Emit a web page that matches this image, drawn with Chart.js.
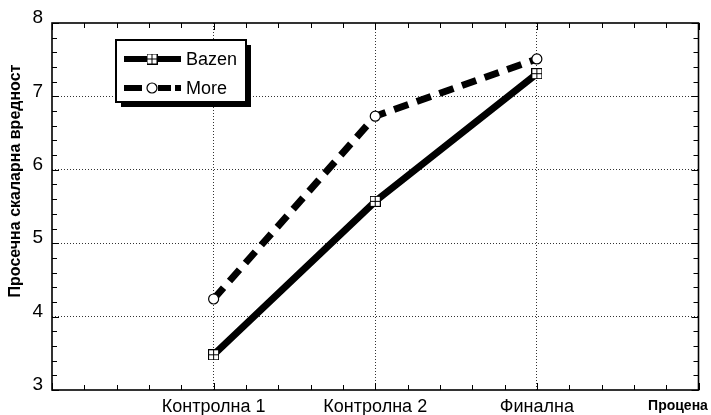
<!DOCTYPE html>
<html><head><meta charset="utf-8">
<script src="https://cdn.jsdelivr.net/npm/chart.js@4/dist/chart.umd.min.js"></script>
<style>html,body{margin:0;padding:0;background:#fff;}#wrap{width:711px;height:415px;position:relative;}</style>
</head><body><div id="wrap"><canvas id="c"></canvas></div>
<script>
const categories = ['', 'Контролна 1', 'Контролна 2', 'Финална', ''];
const bazenValues = [null, 3.48, 5.57, 7.31, null];
const moreValues = [null, 4.24, 6.73, 7.51, null];
const seriesNames = ['Bazen', 'More'];
const yMin = 3, yMax = 8, yStep = 1;
const yTitle = 'Просечна скаларна вредност';
const xTitle = 'Процена';

const FONT = '"Liberation Sans", Arial, Helvetica, sans-serif';

function squareMarker() {
  const c = document.createElement('canvas');
  c.width = 11; c.height = 11;
  const g = c.getContext('2d');
  g.fillStyle = '#fff'; g.fillRect(0, 0, 11, 11);
  g.strokeStyle = '#000'; g.lineWidth = 1;
  g.strokeRect(0.5, 0.5, 10, 10);
  g.beginPath();
  g.moveTo(5.5, 0.5); g.lineTo(5.5, 10.5);
  g.moveTo(0.5, 5.5); g.lineTo(10.5, 5.5);
  g.stroke();
  return c;
}
const sqMark = squareMarker();

const decorPlugin = {
  id: 'decor',
  beforeDatasetsDraw(chart) {
    const ctx = chart.ctx, a = chart.chartArea, xs = chart.scales.x, ys = chart.scales.y;
    ctx.save();
    ctx.strokeStyle = '#000';
    ctx.lineWidth = 1;
    ctx.beginPath();
    const nx = categories.length - 1;
    for (let i = 0; i <= nx * 5; i++) {
      const v = i / 5;
      const x = Math.round(xs.getPixelForValue(v)) + 0.5;
      const L = (i % 5 === 0) ? 7 : 5;
      ctx.moveTo(x, a.bottom); ctx.lineTo(x, a.bottom - L);
      ctx.moveTo(x, a.top); ctx.lineTo(x, a.top + L);
    }
    const ny = Math.round((yMax - yMin) / 0.2);
    for (let i = 0; i <= ny; i++) {
      const v = yMin + i * 0.2;
      const y = Math.round(ys.getPixelForValue(v)) + 0.5;
      const L = (i % 5 === 0) ? 7 : 5;
      ctx.moveTo(a.left, y); ctx.lineTo(a.left + L, y);
      ctx.moveTo(a.right, y); ctx.lineTo(a.right - L, y);
    }
    ctx.stroke();
    ctx.lineWidth = 1.6;
    ctx.strokeRect(a.left, a.top, a.right - a.left, a.bottom - a.top);
    ctx.restore();
  },
  afterDraw(chart) {
    const ctx = chart.ctx;
    const ds = chart.data.datasets;
    ctx.save();
    // y title
    ctx.fillStyle = '#000';
    ctx.font = 'bold 16px ' + FONT;
    ctx.textAlign = 'center';
    ctx.textBaseline = 'middle';
    ctx.translate(16, 181);
    ctx.rotate(-Math.PI / 2);
    ctx.fillText(yTitle, 0, 0);
    ctx.setTransform(1, 0, 0, 1, 0, 0);
    // x title
    ctx.font = 'bold 14px ' + FONT;
    ctx.textAlign = 'center';
    ctx.fillText(xTitle, 678, 406);
    // legend
    const bx = 116, by = 40, bw = 130, bh = 62;
    ctx.fillStyle = '#000';
    ctx.fillRect(bx + 5, by + 5, bw, bh);
    ctx.fillStyle = '#fff';
    ctx.fillRect(bx, by, bw, bh);
    ctx.strokeStyle = '#000';
    ctx.lineWidth = 2;
    ctx.strokeRect(bx, by, bw, bh);
    // row 1
    ctx.lineWidth = 6;
    ctx.lineCap = 'butt';
    ctx.beginPath(); ctx.moveTo(124, 59); ctx.lineTo(181, 59); ctx.stroke();
    ctx.drawImage(sqMark, 152 - 5.5, 59 - 5.5);
    // row 2
    ctx.beginPath();
    ctx.moveTo(124, 88); ctx.lineTo(142, 88);
    ctx.moveTo(158, 88); ctx.lineTo(171, 88);
    ctx.moveTo(175, 88); ctx.lineTo(181, 88);
    ctx.stroke();
    ctx.beginPath(); ctx.arc(152, 88, 5, 0, Math.PI * 2);
    ctx.fillStyle = '#fff'; ctx.fill();
    ctx.lineWidth = 1.2; ctx.stroke();
    ctx.fillStyle = '#000';
    ctx.font = '18px ' + FONT;
    ctx.textAlign = 'left';
    ctx.textBaseline = 'middle';
    ctx.fillText(ds[0].label, 186, 60);
    ctx.fillText(ds[1].label, 186, 89);
    ctx.restore();
  }
};

const gridColorX = (c) => (c.index > 0 && c.index < categories.length - 1) ? '#333' : 'rgba(0,0,0,0)';
const gridColorY = (c) => (c.tick && c.tick.value > yMin && c.tick.value < yMax) ? '#333' : 'rgba(0,0,0,0)';

new Chart(document.getElementById('c'), {
  type: 'line',
  data: {
    labels: categories,
    datasets: [
      {
        label: seriesNames[0], data: bazenValues,
        borderColor: '#000', borderWidth: 7, borderCapStyle: 'butt', tension: 0,
        pointStyle: sqMark, pointRadius: 5.5,
        order: 2
      },
      {
        label: seriesNames[1], data: moreValues,
        borderColor: '#000', borderWidth: 7, borderDash: [15, 9], borderCapStyle: 'butt', tension: 0,
        pointStyle: 'circle', pointRadius: 5, pointBackgroundColor: '#fff', pointBorderColor: '#000', pointBorderWidth: 1.2,
        order: 1
      }
    ]
  },
  options: {
    responsive: true, maintainAspectRatio: false, animation: false,
    layout: { padding: { left: 0, top: 23, right: 11, bottom: 0 } },
    plugins: { legend: { display: false }, tooltip: { enabled: false } },
    scales: {
      x: {
        type: 'category', offset: false,
        grid: { color: gridColorX, lineWidth: 1, drawTicks: false },
        border: { display: false, dash: [1, 2] },
        ticks: { color: '#000', font: { family: FONT, size: 18 }, padding: 6, autoSkip: false, maxRotation: 0 },
        afterFit: (s) => { s.height = 25; }
      },
      y: {
        min: yMin, max: yMax,
        grid: { color: gridColorY, lineWidth: 1, drawTicks: false },
        border: { display: false, dash: [1, 2] },
        ticks: { stepSize: yStep, color: '#000', font: { family: FONT, size: 19 }, padding: 9, labelOffset: -5 },
        afterFit: (s) => { s.width = 52; }
      }
    }
  },
  plugins: [decorPlugin]
});
</script>
</body></html>
